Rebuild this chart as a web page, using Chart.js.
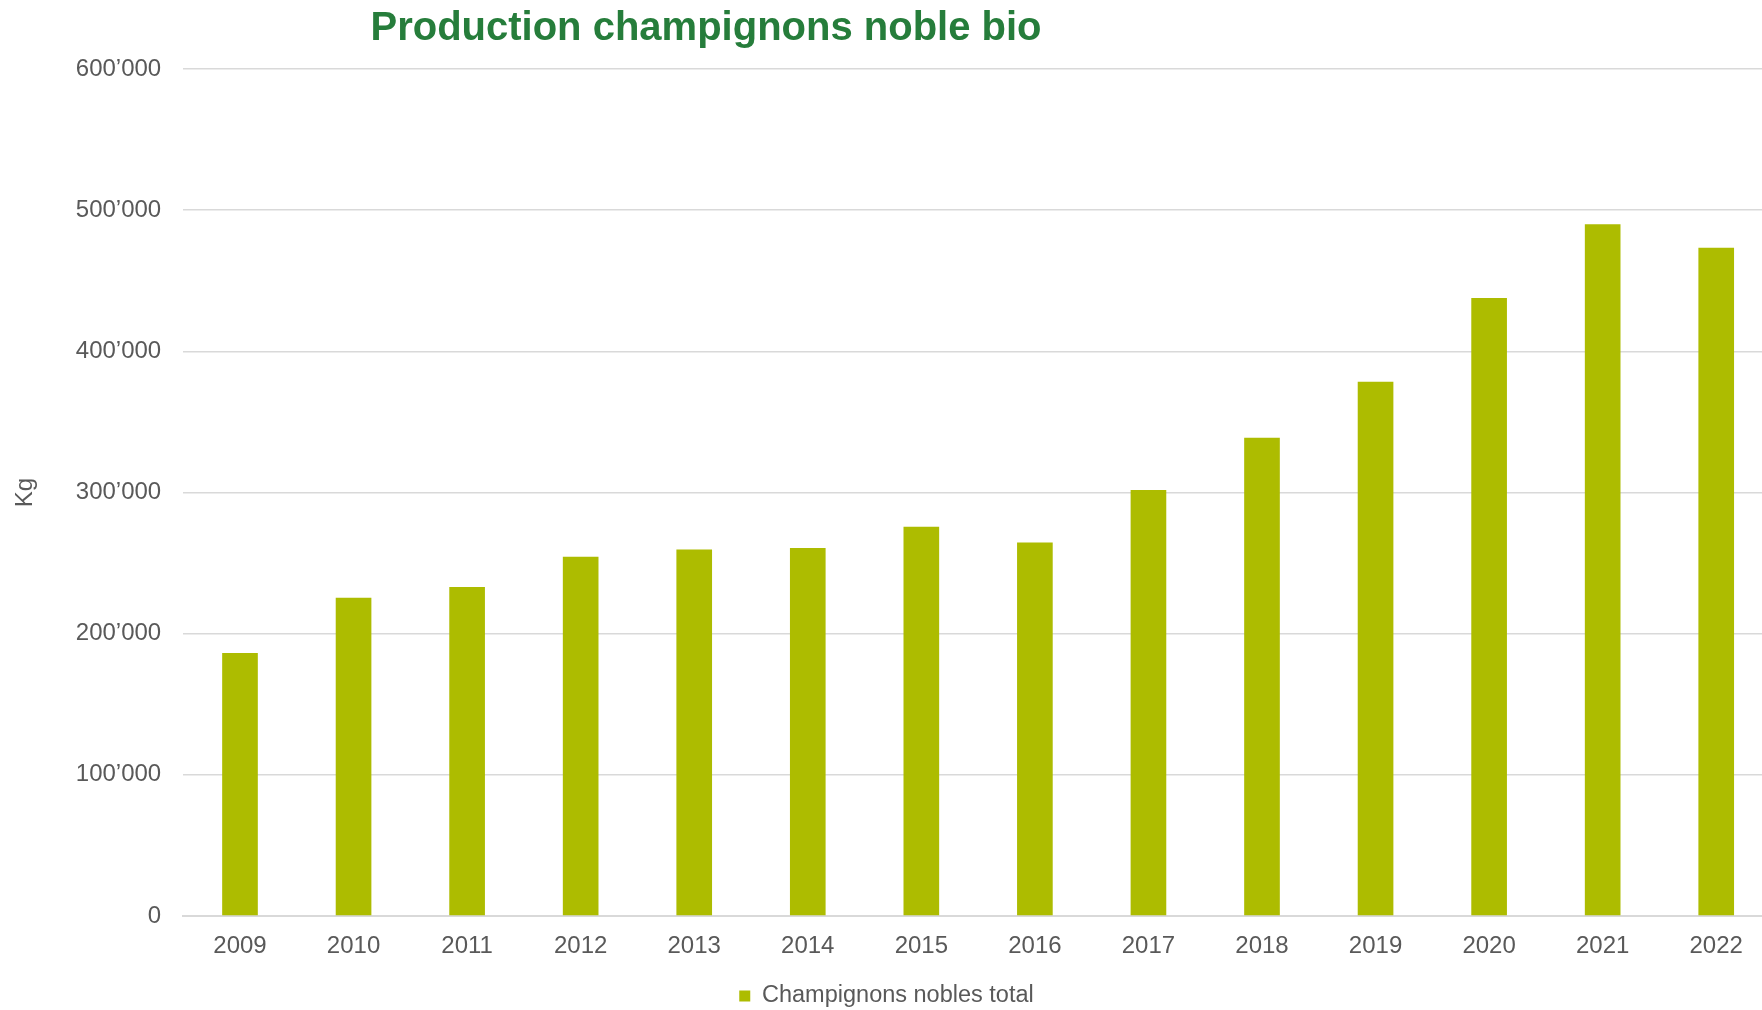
<!DOCTYPE html>
<html>
<head>
<meta charset="utf-8">
<script src="https://cdn.jsdelivr.net/npm/chart.js@4"></script>
<style>
html, body { margin: 0; padding: 0; background: #ffffff; overflow: hidden; width: 1762px; height: 1010px; }
#c { display: block; }
</style>
</head>
<body>
<canvas id="c" width="1790" height="1010"></canvas>
<script>
// ---- data ----
const chartTitle = "Production champignons noble bio";
const yAxisTitle = "Kg";
const seriesName = "Champignons nobles total";
const years = ["2009","2010","2011","2012","2013","2014","2015","2016","2017","2018","2019","2020","2021","2022"];
const production = [186300, 225400, 233000, 254500, 259700, 260600, 275700, 264600, 301700, 338700, 378400, 437700, 490100, 473300];
const yMin = 0;
const yMax = 600000;
const yStep = 100000;

const barColor = "#ADBC00";
const textColor = "#595959";
const gridColor = "#D9D9D9";
const titleColor = "#267D3B";
const baseFont = "'Liberation Sans', Arial, sans-serif";

function fmt(v) {
  return String(Math.round(v)).replace(/\B(?=(\d{3})+(?!\d))/g, "\u2019");
}

const titlePlugin = {
  id: 'offsetTitle',
  afterDraw(chart) {
    const ctx = chart.ctx;
    ctx.save();
    ctx.font = "bold 40px " + baseFont;
    ctx.fillStyle = titleColor;
    ctx.textAlign = "center";
    ctx.textBaseline = "alphabetic";
    ctx.fillText(chartTitle, 706, 40);
    ctx.restore();
  }
};

new Chart(document.getElementById('c'), {
  type: 'bar',
  data: {
    labels: years,
    datasets: [{
      label: seriesName,
      data: production,
      backgroundColor: barColor,
      borderWidth: 0,
      barPercentage: 0.314,
      categoryPercentage: 1.0
    }]
  },
  plugins: [titlePlugin],
  options: {
    responsive: false,
    animation: false,
    devicePixelRatio: 1,
    layout: { padding: { left: 0, right: 17, top: 69, bottom: -7.75 } },
    plugins: {
      title: { display: false },
      tooltip: { enabled: false },
      legend: {
        display: true,
        position: 'bottom',
        labels: {
          color: textColor,
          font: { family: baseFont, size: 23.5 },
          boxWidth: 11,
          boxHeight: 11,
          padding: 7.45
        }
      }
    },
    scales: {
      x: {
        grid: { display: false, drawTicks: false },
        border: { display: true, color: gridColor, width: 2 },
        ticks: {
          color: textColor,
          font: { family: baseFont, size: 24 },
          padding: 16,
          maxRotation: 0
        }
      },
      y: {
        min: yMin,
        max: yMax,
        grid: { color: gridColor, lineWidth: 1.5, drawTicks: false },
        border: { display: false },
        ticks: {
          stepSize: yStep,
          color: textColor,
          font: { family: baseFont, size: 24 },
          padding: 22,
          callback: (v) => fmt(v)
        },
        title: {
          display: true,
          text: yAxisTitle,
          color: textColor,
          font: { family: baseFont, size: 24 },
          padding: { top: 11, bottom: 14 }
        }
      }
    }
  }
});
</script>
</body>
</html>
